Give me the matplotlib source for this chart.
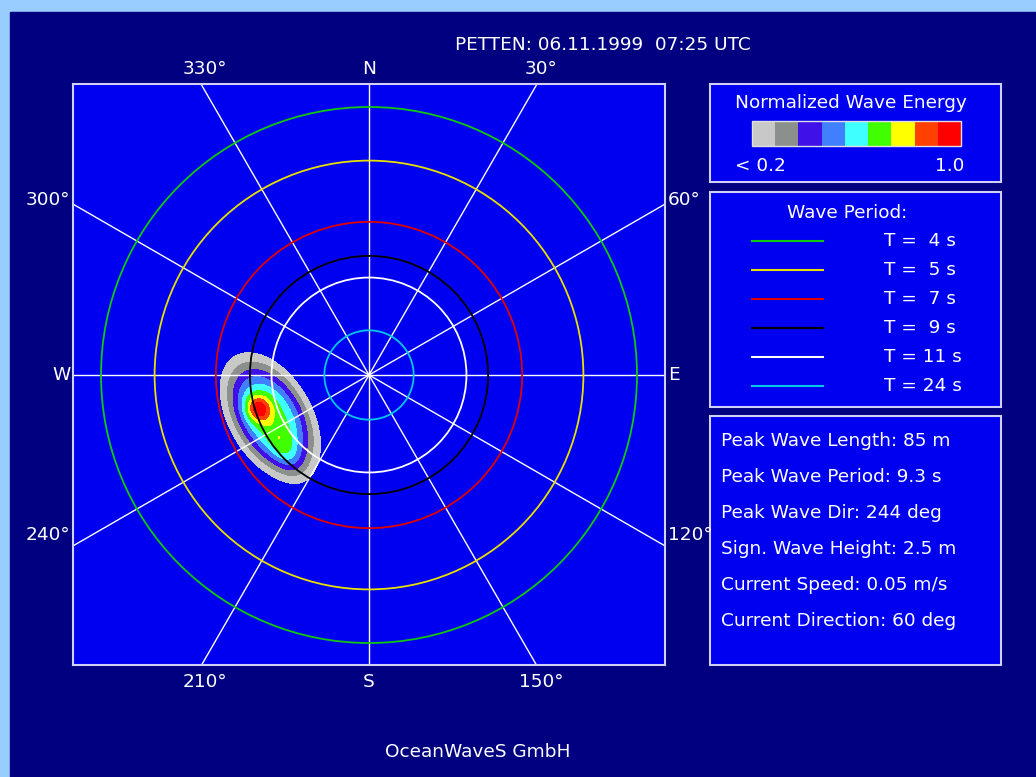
import numpy as np
import matplotlib.pyplot as plt
from matplotlib.patches import Rectangle, Circle

W, H = 1036, 777
SCALE = 1072.0  # pixels per unit of frequency (1/T)

title = "PETTEN: 06.11.1999  07:25 UTC"
footer = "OceanWaveS GmbH"

# wave period circles
periods = [4, 5, 7, 9, 11, 24]
period_colors = ['#10c810', '#e8e000', '#e00000', '#000000', '#ffffff', '#00c8e8']
period_labels = ['T =  4 s', 'T =  5 s', 'T =  7 s', 'T =  9 s', 'T = 11 s', 'T = 24 s']

# normalized energy classes
energy_levels = [0.1, 0.2, 0.3, 0.4, 0.5, 0.6, 0.7, 0.8, 0.9, 1.01]
energy_colors = ['#c8c8c8', '#8c908c', '#4010e8', '#4080ff', '#40ffff',
                 '#40ff00', '#ffff00', '#ff4000', '#ff0000']

# direction spokes and labels
spoke_angles = [0, 30, 60, 90, 120, 150]
dir_angles = [0, 30, 60, 90, 120, 150, 180, 210, 240, 270, 300, 330]
dir_texts = ['N', '30°', '60°', 'E', '120°', '150°', 'S', '210°', '240°', 'W', '300°', '330°']

# spectral components:
# period (s), direction (deg), energy, long/short spread (1/s), axis bearing, flatness
comp_period = [10.0, 9.3, 9.5]
comp_dir = [247, 253, 228]
comp_amp = [0.62, 0.38, 0.15]
comp_sig_long = [0.0424, 0.0085, 0.017]
comp_sig_short = [0.0250, 0.0075, 0.009]
comp_axis = [150, 150, 150]
comp_pow = [3, 2, 2]

info_lines = ['Peak Wave Length: 85 m', 'Peak Wave Period: 9.3 s', 'Peak Wave Dir: 244 deg',
              'Sign. Wave Height: 2.5 m', 'Current Speed: 0.05 m/s', 'Current Direction: 60 deg']

NAVY = '#000080'
BLUE = '#0000f0'
EDGE = '#d0d0f8'
FS = 13.3

fig = plt.figure(figsize=(W / 100, H / 100), dpi=100, facecolor='#99ccff')

# overlay in pixel coordinates (drawn first, below the polar plot)
ov = fig.add_axes([0, 0, 1, 1])
ov.set_xlim(0, W)
ov.set_ylim(H, 0)
ov.axis('off')
ov.add_patch(Rectangle((10, 12), W - 10, H - 12, color=NAVY, zorder=0))

ov.text(603, 45, title, color='white', fontsize=FS, ha='center', va='center')
ov.text(478, 752, footer, color='white', fontsize=FS, ha='center', va='center')

# panel 1: energy legend
ov.add_patch(Rectangle((710, 84), 291, 98, fc=BLUE, ec=EDGE, lw=1.5))
ov.text(851, 103, 'Normalized Wave Energy', color='white', fontsize=FS, ha='center', va='center')
cw = (961 - 752) / len(energy_colors)
for i, c in enumerate(energy_colors):
    ov.add_patch(Rectangle((752 + i * cw, 121), cw, 25, fc=c, ec='none'))
ov.add_patch(Rectangle((752, 121), 209, 25, fill=False, ec='#e0e0e0', lw=1))
ov.text(735, 166, '< 0.2', color='white', fontsize=FS, ha='left', va='center')
ov.text(964, 166, '1.0', color='white', fontsize=FS, ha='right', va='center')

# panel 2: wave period legend
ov.add_patch(Rectangle((710, 192), 291, 215, fc=BLUE, ec=EDGE, lw=1.5))
ov.text(847, 213, 'Wave Period:', color='white', fontsize=FS, ha='center', va='center')
for i, (c, lab) in enumerate(zip(period_colors, period_labels)):
    y = 241 + i * 29
    ov.plot([752, 823], [y, y], color=c, lw=1.5)
    ov.text(884, y, lab, color='white', fontsize=FS, ha='left', va='center')

# panel 3: peak parameters
ov.add_patch(Rectangle((710, 416), 291, 249, fc=BLUE, ec=EDGE, lw=1.5))
for i, line in enumerate(info_lines):
    ov.text(721, 441 + i * 36, line, color='white', fontsize=FS, ha='left', va='center')

# polar wave spectrum plot
ax = fig.add_axes([73 / W, 1 - 665 / H, 592 / W, 581 / H])
xmin, xmax = -296 / SCALE, 296 / SCALE
ymin, ymax = -290 / SCALE, 291 / SCALE
ax.set_xlim(xmin, xmax)
ax.set_ylim(ymin, ymax)
ax.set_facecolor(BLUE)
ax.set_xticks([])
ax.set_yticks([])
for s in ax.spines.values():
    s.set_color(EDGE)
    s.set_linewidth(1.5)

# energy field
gx = np.linspace(xmin, xmax, 320)
gy = np.linspace(ymin, ymax, 320)
X, Y = np.meshgrid(gx, gy)
Z = np.zeros_like(X)
for T, d, a, sl, ss, b, p in zip(comp_period, comp_dir, comp_amp, comp_sig_long,
                                 comp_sig_short, comp_axis, comp_pow):
    cx, cy = np.sin(np.radians(d)) / T, np.cos(np.radians(d)) / T
    ux, uy = np.sin(np.radians(b)), np.cos(np.radians(b))
    u = (X - cx) * ux + (Y - cy) * uy
    v = -(X - cx) * uy + (Y - cy) * ux
    rho = np.sqrt((u / sl) ** 2 + (v / ss) ** 2)
    Z += a * np.exp(-0.5 * rho ** p)
Z = Z / Z.max()
ax.contourf(X, Y, Z, levels=energy_levels, colors=energy_colors, zorder=1)

for a in spoke_angles:
    t = np.radians(a)
    ax.plot([-np.sin(t), np.sin(t)], [-np.cos(t), np.cos(t)], color='white', lw=1, zorder=2)

for T, c in zip(periods, period_colors):
    ax.add_patch(Circle((0, 0), 1.0 / T, fill=False, ec=c, lw=1.3, zorder=3))

# direction labels just outside the frame
for a, txt in zip(dir_angles, dir_texts):
    t = np.radians(a)
    dx, dy = round(np.sin(t), 6), round(np.cos(t), 6)
    sx = xmax / abs(dx) if dx != 0 else np.inf
    sy = ymax / abs(dy) if dy != 0 else np.inf
    shift = 3 if txt.endswith('°') else 0
    if sy <= sx:
        p = (dx * sy, dy * sy)
        off = (shift, 4) if dy > 0 else (shift, -5)
        va = 'bottom' if dy > 0 else 'top'
        ha = 'center'
    else:
        p = (dx * sx, dy * sx)
        up = 0 if dy == 0 else (3 if dy > 0 else 8)
        off = (-2, up) if dx < 0 else (2, up)
        ha = 'right' if dx < 0 else 'left'
        va = 'center'
    ax.annotate(txt, xy=p, xytext=off, textcoords='offset points', color='white',
                fontsize=FS, ha=ha, va=va, annotation_clip=False)

fig.savefig('out.png', dpi=100, facecolor=fig.get_facecolor())
